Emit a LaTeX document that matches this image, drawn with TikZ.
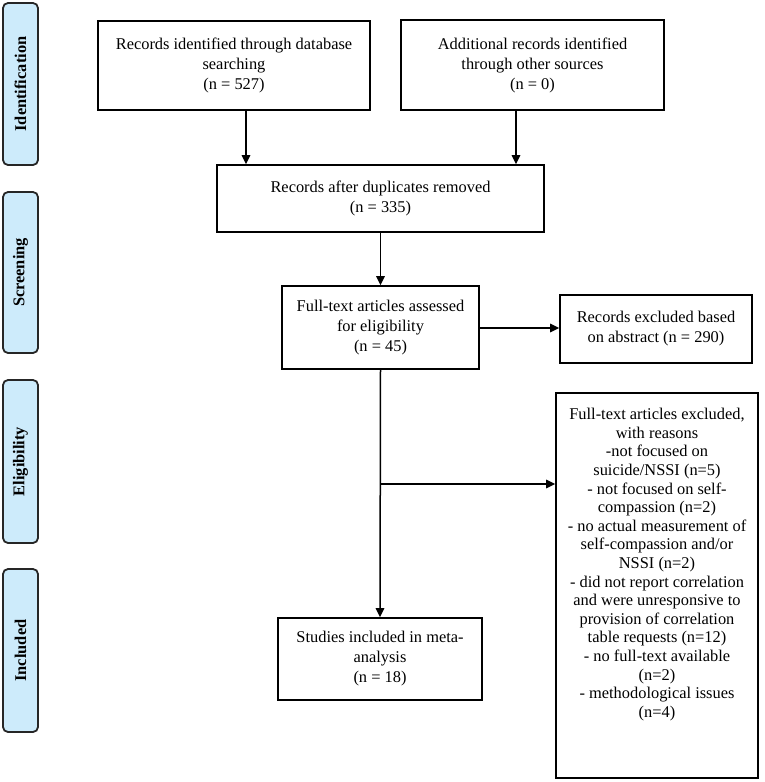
\documentclass[tikz,border=0pt]{standalone}
\usepackage{fontspec}
\setmainfont{Liberation Serif}
\usetikzlibrary{arrows.meta,calc}
\definecolor{phasefill}{RGB}{205,235,251}
\begin{document}
\begin{tikzpicture}[x=1pt,y=-1pt,
  box/.style={draw=black,line width=1.6pt,fill=white,inner sep=0pt,align=center,
    font=\fontsize{16.4}{20}\selectfont},
  phase/.style={draw=black!85,line width=1.8pt,fill=phasefill,rounded corners=5pt,
    rotate=90,inner sep=0pt,minimum height=35pt,font=\fontsize{16.4}{20}\selectfont\bfseries},
  arr/.style={line width=1.5pt,-{Triangle[length=9pt,width=8.5pt]}},
  ln/.style={line width=1.5pt}]
\useasboundingbox (0,0) rectangle (765,782);
% phase labels
\node[phase,minimum width=162pt] (p1) at (20.5,84) {Identification};
\node[phase,minimum width=161pt] (p2) at (20.5,272.5) {Screening};
\node[phase,minimum width=163pt] (p3) at (20.5,461.5) {Eligibility};
\node[phase,minimum width=163pt] (p4) at (20.5,650.5) {Included};
% boxes
\node[box,minimum width=272pt,minimum height=89pt] (b1) at (234,65.5)
  {Records identified through database\\searching\\(n = 527)};
\node[box,minimum width=263pt,minimum height=90pt] (b2) at (532.5,65)
  {Additional records identified\\through other sources\\(n = 0)};
\node[box,minimum width=327pt,minimum height=67pt] (b3) at (380.5,198.5)
  {Records after duplicates removed\\(n = 335)};
\node[box,minimum width=197pt,minimum height=83pt] (b4) at (380.5,327.5)
  {Full-text articles assessed\\for eligibility\\(n = 45)};
\node[box,minimum width=192pt,minimum height=68pt] (b5) at (656,329)
  {Records excluded based\\on abstract (n = 290)};
\node[box,minimum width=202pt,minimum height=385pt] (b6) at (657,585.5) {};
\node[anchor=north,inner sep=0pt,align=center,font=\fontsize{16.4}{18.6}\selectfont] (b6t) at ($(b6.north)+(0,16)$)
  {Full-text articles excluded,\\with reasons\\-not focused on\\suicide/NSSI (n=5)\\- not focused on self-\\compassion (n=2)\\- no actual measurement of\\self-compassion and/or\\NSSI (n=2)\\- did not report correlation\\and were unresponsive to\\provision of correlation\\table requests (n=12)\\- no full-text available\\(n=2)\\- methodological issues\\(n=4)};
\node[box,minimum width=204pt,minimum height=82pt] (b7) at (380,659)
  {Studies included in meta-\\analysis\\(n = 18)};
% connectors
\coordinate (xa) at (246,0);
\coordinate (xb) at (516,0);
\draw[arr] (b1.south -| xa) -- (b3.north -| xa);
\draw[arr] (b2.south -| xb) -- (b3.north -| xb);
\draw[arr] (b3.south -| b4.north) -- (b4.north);
\draw[arr] (b4.east |- 0,328) -- (b5.west |- 0,328);
\draw[arr] (b4.south) -- (b7.north);
\coordinate (br) at (b4.south |- 0,484);
\draw[arr] (br) -- (b6.west |- br);
\end{tikzpicture}
\end{document}
